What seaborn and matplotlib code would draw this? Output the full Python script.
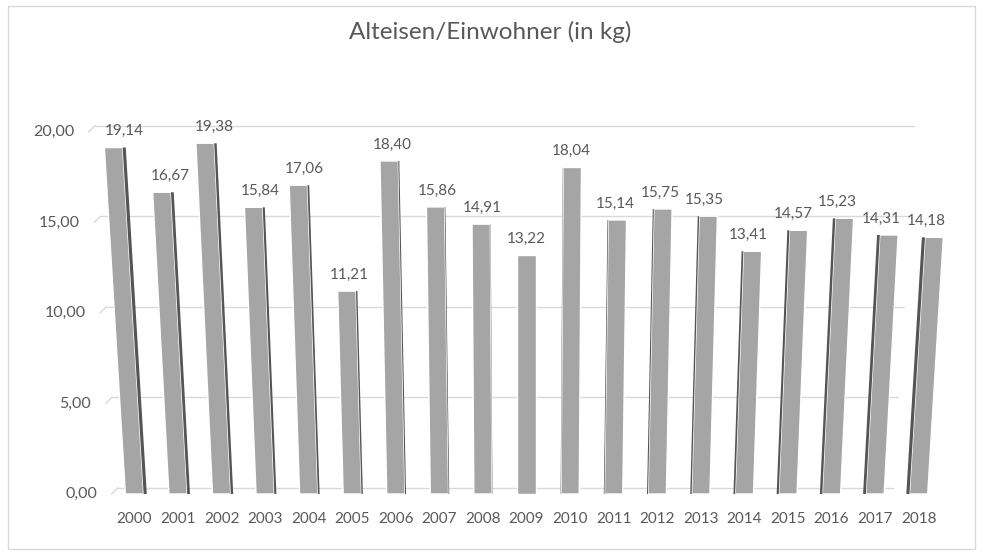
import matplotlib
matplotlib.use("Agg")
import matplotlib.pyplot as plt
import matplotlib.patches as mpatches
from matplotlib.transforms import Affine2D
import seaborn as sns
import pandas as pd
import numpy as np

years = [str(y) for y in range(2000, 2019)]
values = [19.14, 16.67, 19.38, 15.84, 17.06, 11.21, 18.40, 15.86, 14.91, 13.22,
          18.04, 15.14, 15.75, 15.35, 13.41, 14.57, 15.23, 14.31, 14.18]
y_ticks = [0, 5, 10, 15, 20]
title = "Alteisen/Einwohner (in kg)"

df = pd.DataFrame({"Jahr": years, "kg": values})

sns.set_theme(style="white")
plt.rcParams["font.family"] = ["Lato", "DejaVu Sans"]

text_col = "#595959"
bar_col = "#a5a5a5"
side_col = "#555555"
grid_col = "#d9d9d9"

# perspective of the 3-D chart: horizontal spread grows with height,
# the back wall sits slightly above and to the right of the front plane
persp = 0.0028
depth_y = 0.35
depth_x = 0.15
bar_w = 0.42

W, H = 989, 554
fig = plt.figure(figsize=(W / 100, H / 100), dpi=100)
x0_px, ux = 134.5, 43.56
xmin, xmax = -1.0, 19.2
ax = fig.add_axes([(x0_px + xmin * ux) / W, 1 - 494 / H,
                   (xmax - xmin) * ux / W, (494 - 132) / H])
ax.set_xlim(xmin, xmax)
ax.set_ylim(0, 20)

n = len(values)
cx = (n - 1) / 2


def spread(y):
    return 1 + persp * y


# back wall grid with short floor/side edges towards the front
for t in y_ticks:
    yb = t + depth_y
    xl = cx - (cx + 0.38) * spread(t)
    xr = cx + (n - 1 - 0.58 - cx) * spread(t)
    ax.plot([xl, xr], [yb, yb], color=grid_col, lw=1, zorder=1, clip_on=False)
    ax.plot([xl - depth_x, xl], [t, yb], color=grid_col, lw=1, zorder=1,
            clip_on=False)
    ax.text(xl - depth_x - 0.33, t, f"{t:.2f}".replace(".", ","), ha="right",
            va="center", fontsize=11.5, color=text_col, clip_on=False)

sns.barplot(data=df, x="Jahr", y="kg", color=bar_col, width=bar_w,
            saturation=1, ax=ax, zorder=3)
ax.set_xlim(xmin, xmax)
ax.set_ylim(0, 20)
bars = list(ax.patches)

# dark side faces of the columns
for i, v in enumerate(values):
    w = 0.008 * abs(i - cx)
    if w == 0:
        continue
    left = i + bar_w / 2 if i < cx else i - bar_w / 2 - w
    ax.bar(left, v, width=w, align="edge", color=side_col, linewidth=0,
           zorder=3)
sides = [p for p in ax.patches if p not in bars]

# lean each column outwards about its base point
fig.canvas.draw()
px_x = ax.transData.transform((1, 0))[0] - ax.transData.transform((0, 0))[0]
px_y = ax.transData.transform((0, 1))[1] - ax.transData.transform((0, 0))[1]
for p in bars + sides:
    xc = p.get_x() + p.get_width() / 2
    i = int(round(xc))
    bx, by = ax.transData.transform((i, 0))
    shear = (i - cx) * px_x * persp / px_y
    p.set_transform(ax.transData + Affine2D().translate(-bx, -by)
                    .skew(np.arctan(shear), 0).translate(bx, by))

for i, v in enumerate(values):
    xl = cx + (i - cx) * (1 + 0.0013 * v)
    ax.text(xl, v + 0.9, f"{v:.2f}".replace(".", ","), ha="center",
            va="center", fontsize=11, color=text_col, clip_on=False, zorder=4)

ax.set_yticks([])
ax.set_xticks(range(n))
ax.set_xticklabels(years)
for s in ["top", "right", "left", "bottom"]:
    ax.spines[s].set_visible(False)
ax.tick_params(axis="x", length=0, labelsize=11, labelcolor=text_col, pad=13)
ax.set_xlabel("")
ax.set_ylabel("")
ax.grid(False)

fig.text(490 / W, 1 - 32 / H, title, ha="center", va="center",
         fontsize=17.5, color=text_col)

fig.patches.append(mpatches.Rectangle((8 / W, 5 / H), (975 - 8) / W, (548 - 5) / H,
                                      transform=fig.transFigure, fill=False,
                                      edgecolor=grid_col, linewidth=1))

fig.savefig("out.png", dpi=100)
